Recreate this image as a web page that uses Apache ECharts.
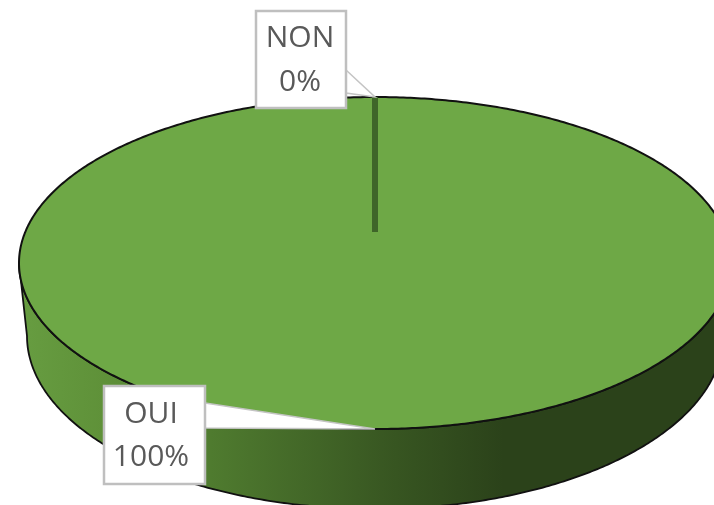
<!DOCTYPE html>
<html>
<head>
<meta charset="utf-8">
<style>
html, body { margin: 0; padding: 0; background: #fff; }
#main { width: 714px; height: 505px; }
</style>
<script src="https://cdn.jsdelivr.net/npm/echarts@6/dist/echarts.min.js"></script>
</head>
<body>
<div id="main"></div>
<script>
// chart data
var categories = ['NON', 'OUI'];
var values = [0, 100];

// 3D pie look, excel style: top face, lower rim, apex sits above the middle (perspective)
var topFace = { cx: 375, cy: 263, rx: 356, ry: 166 };
var lowRim = { cx: 375, cy: 336, rx: 348, ry: 173 };
var apex = { x: 375, y: 232 };
var callouts = {
    NON: { x: 256, y: 11, w: 90, h: 97, base: [59, 82], textX: 300, line1: 38, line2: 82 },
    OUI: { x: 104, y: 386, w: 101, h: 98, base: [17, 42], textX: 151, line1: 414, line2: 457 }
};
var wallStops = [
    { offset: 0, color: '#679d41' },
    { offset: 0.12, color: '#5f9139' },
    { offset: 0.27, color: '#4f7b2f' },
    { offset: 0.53, color: '#375521' },
    { offset: 0.68, color: '#2b421a' },
    { offset: 1, color: '#2b421a' }
];

var total = values.reduce(function (a, b) { return a + b; }, 0);

function rimPoint(e, t) {
    return [e.cx + e.rx * Math.sin(t), e.cy - e.ry * Math.cos(t)];
}

function arcPoints(e, from, to) {
    var pts = [];
    var steps = Math.max(1, Math.ceil((to - from) / 0.01));
    for (var i = 0; i <= steps; i++) {
        pts.push(rimPoint(e, from + (to - from) * i / steps));
    }
    return pts;
}

function renderSlice(params, api) {
    var i = params.dataIndex;
    var start = 0;
    for (var k = 0; k < i; k++) start += values[k];
    var from = start / total * Math.PI * 2;
    var to = (start + api.value(0)) / total * Math.PI * 2;
    var mid = (from + to) / 2;
    var children = [];

    if (to - from < 0.001) {
        // empty slice, only its cut shows
        var rim = rimPoint(topFace, from);
        children.push({
            type: 'line',
            z2: 5,
            shape: { x1: apex.x, y1: apex.y, x2: rim[0], y2: rim[1] },
            style: { stroke: '#3f6529', lineWidth: 6 }
        });
    } else {
        var wallFrom = Math.max(from, Math.PI / 2);
        var wallTo = Math.min(to, Math.PI * 1.5);
        if (wallTo > wallFrom) {
            var wall = arcPoints(topFace, wallFrom, wallTo)
                .concat(arcPoints(lowRim, wallFrom, wallTo).reverse());
            children.push({
                type: 'polygon',
                z2: 1,
                shape: { points: wall },
                style: {
                    fill: { type: 'linear', x: 0, y: 0, x2: 1, y2: 0, colorStops: wallStops },
                    stroke: '#111',
                    lineWidth: 1.8
                }
            });
        }
        var face = [[apex.x, apex.y]].concat(arcPoints(topFace, from, to));
        children.push({
            type: 'polygon',
            z2: 2,
            shape: { points: face },
            style: { fill: '#6ea846' }
        });
        children.push({
            type: 'polyline',
            z2: 3,
            shape: { points: arcPoints(topFace, from, to) },
            style: { fill: null, stroke: '#111', lineWidth: 2 }
        });
    }

    // callout box with pointer to the rim
    var c = callouts[categories[i]];
    var tip = rimPoint(topFace, mid);
    var side = tip[0] > c.x + c.w ? c.x + c.w : c.x;
    children.push({
        type: 'polygon',
        z2: 6,
        shape: { points: [[side, c.y + c.base[0]], tip, [side, c.y + c.base[1]]] },
        style: { fill: '#fff', stroke: '#c4c4c4', lineWidth: 1.5 }
    });
    children.push({
        type: 'rect',
        z2: 7,
        shape: { x: c.x, y: c.y, width: c.w, height: c.h },
        style: { fill: '#fff', stroke: '#bfbfbf', lineWidth: 2.5 }
    });
    var pct = Math.round(api.value(0) / total * 100) + '%';
    [[categories[i], c.line1], [pct, c.line2]].forEach(function (t) {
        children.push({
            type: 'text',
            z2: 8,
            style: {
                x: c.textX,
                y: t[1],
                text: t[0],
                fill: '#595959',
                font: '30px "Open Sans"',
                align: 'center',
                verticalAlign: 'middle'
            }
        });
    });
    return { type: 'group', children: children };
}

var myChart = echarts.init(document.getElementById('main'));
myChart.setOption({
    animation: false,
    backgroundColor: '#fff',
    series: [{
        type: 'custom',
        coordinateSystem: 'none',
        renderItem: renderSlice,
        data: values.map(function (v, i) {
            return { name: categories[i], value: [v] };
        })
    }]
});
</script>
</body>
</html>
